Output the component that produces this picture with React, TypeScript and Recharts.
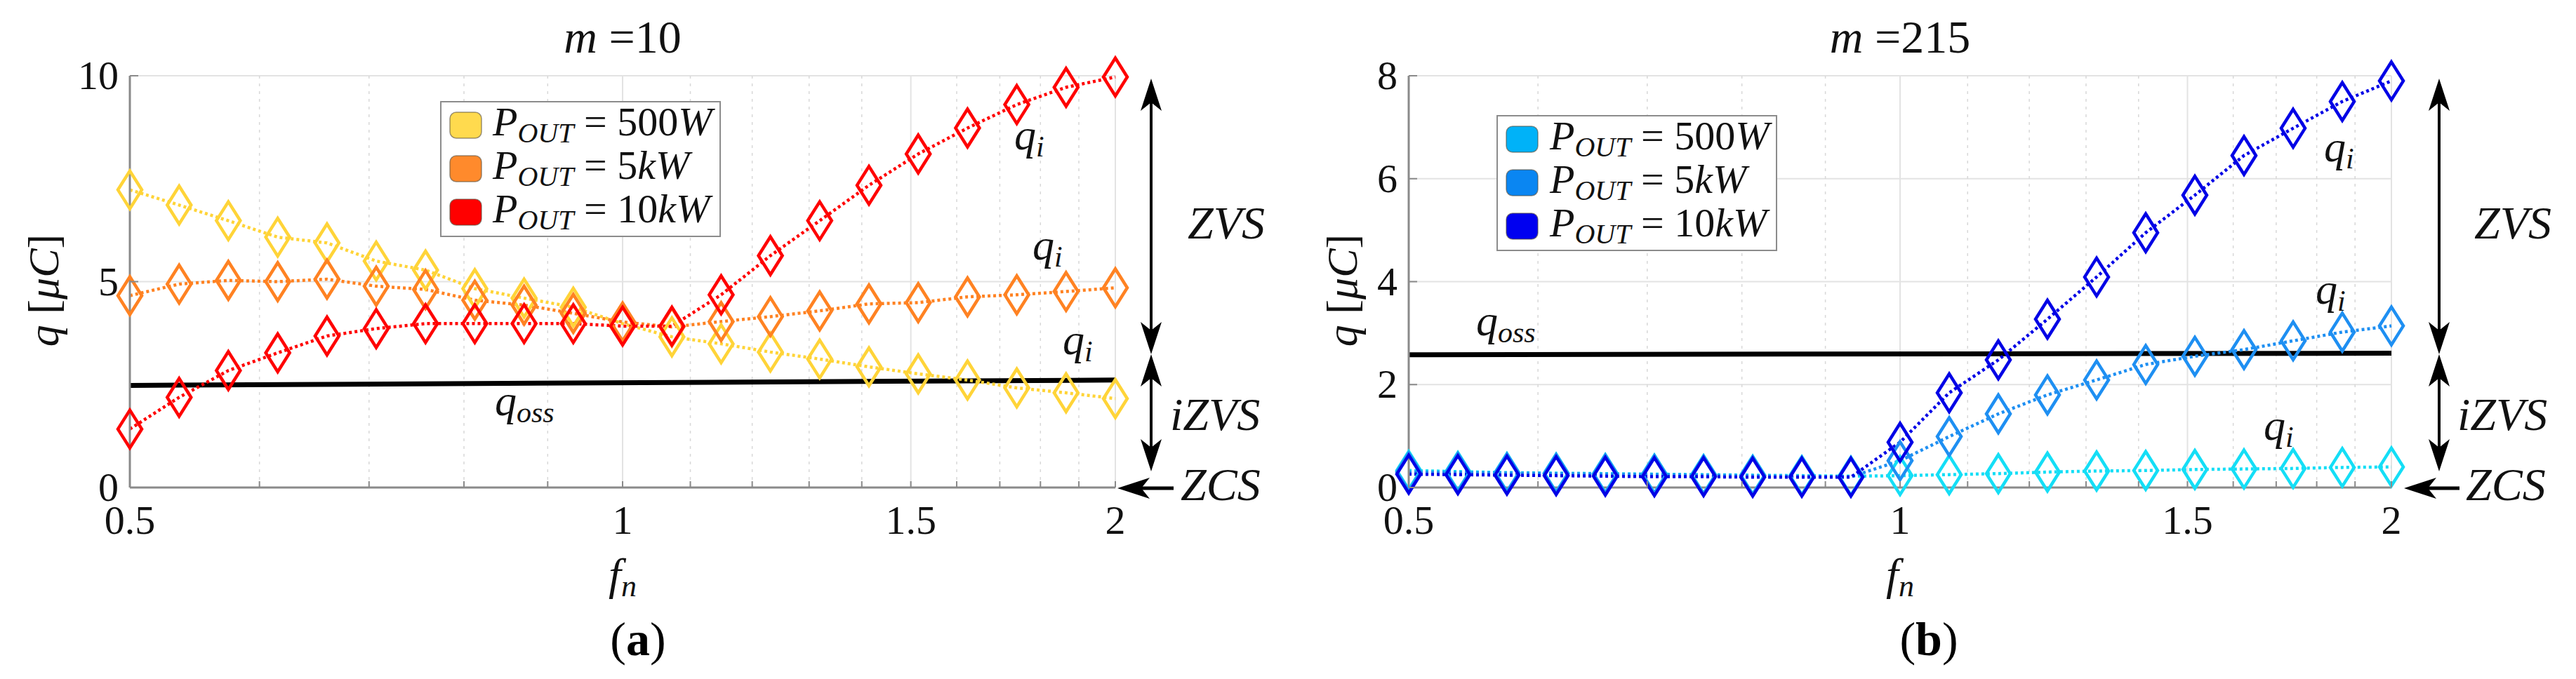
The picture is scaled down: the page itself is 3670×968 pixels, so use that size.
import React from 'react';
import { LineChart, Line, XAxis, YAxis, CartesianGrid, ReferenceLine } from 'recharts';

// ---------- data ----------
const fValues = [0.5, 0.5359, 0.5743, 0.6156, 0.6598, 0.7071, 0.7579, 0.8123, 0.8706, 0.933, 1.0,
  1.0718, 1.1487, 1.2311, 1.3195, 1.4142, 1.5157, 1.6245, 1.7411, 1.8661, 2.0];

// panel (a) m = 10
const qA500W = [7.23, 6.86, 6.48, 6.08, 5.94, 5.5, 5.28, 4.83, 4.6, 4.38, 3.98, 3.66, 3.49, 3.29, 3.12, 2.93, 2.76, 2.61, 2.42, 2.3, 2.16];
const qA5kW = [4.66, 4.94, 5.03, 5.0, 5.06, 4.89, 4.81, 4.55, 4.43, 4.23, 4.02, 3.9, 4.03, 4.15, 4.29, 4.46, 4.49, 4.63, 4.68, 4.76, 4.85];
const qA10kW = [1.42, 2.19, 2.84, 3.27, 3.68, 3.86, 3.98, 3.98, 3.98, 3.98, 3.92, 3.92, 4.68, 5.63, 6.48, 7.34, 8.1, 8.73, 9.3, 9.72, 9.97];
const qossAF = [0.5, 2];
const qossAV = [2.48, 2.61];

// panel (b) m = 215
const qB500W = [0.33, 0.31, 0.29, 0.28, 0.27, 0.26, 0.25, 0.24, 0.23, 0.22, 0.23, 0.25, 0.27, 0.3, 0.32, 0.33, 0.35, 0.36, 0.37, 0.39, 0.4];
const qB5kW = [0.3, 0.29, 0.28, 0.27, 0.26, 0.25, 0.24, 0.23, 0.22, 0.21, 0.52, 0.99, 1.43, 1.8, 2.09, 2.39, 2.55, 2.68, 2.85, 3.02, 3.14];
const qB10kW = [0.26, 0.25, 0.24, 0.23, 0.22, 0.21, 0.21, 0.2, 0.2, 0.2, 0.88, 1.84, 2.48, 3.27, 4.09, 4.95, 5.68, 6.45, 6.98, 7.5, 7.9];
const qossBF = [0.5, 2];
const qossBV = [2.58, 2.61];

const xMajorTicks = [0.5, 1, 1.5, 2];
const xMajorLabels = ['0.5', '1', '1.5', '2'];
const xMinorTicks = [0.6, 0.7, 0.8, 0.9, 1.1, 1.2, 1.3, 1.4, 1.6, 1.7, 1.8, 1.9];
const yTicksA = [0, 5, 10];
const yTicksB = [0, 2, 4, 6, 8];
const powerLabels = ['500', '5', '10'];
const powerUnits = ['W', 'kW', 'kW'];

const colorsA = ['#FFD438', '#FF8222', '#FF0000'];
const legendColorsA = ['#FFDA4E', '#FF8A2C', '#FF0000'];
const colorsB = ['#14DEF6', '#1E8FF2', '#0000E6'];
const legendColorsB = ['#00B2F8', '#0A86F2', '#0000F0'];

const FONT = 'Liberation Serif, Times New Roman, DejaVu Serif, serif';
const AXIS_GRAY = '#8a8a8a';

function buildRows(a: number[], b: number[], c: number[]) {
  return fValues.map((f, i) => ({ f, s0: a[i], s1: b[i], s2: c[i] }));
}
function buildQoss(fs: number[], vs: number[]) {
  return fs.map((f, i) => ({ f, q: vs[i] }));
}

const renderDiamond = (color: string, tag: string) => (props: any) => {
  const { cx, cy, index } = props;
  if (cx == null || cy == null) return <g key={`${tag}-${index}`} />;
  return (
    <path
      key={`${tag}-${index}`}
      d={`M${cx},${cy - 27}L${cx + 17},${cy}L${cx},${cy + 27}L${cx - 17},${cy}Z`}
      fill="none"
      stroke={color}
      strokeWidth={4.5}
      strokeLinejoin="miter"
    />
  );
};

const renderXTick = (props: any) => {
  const { x, y, payload } = props;
  const idx = xMajorTicks.indexOf(payload.value);
  return (
    <g>
      <line x1={x} x2={x} y1={y} y2={y - 9} stroke={AXIS_GRAY} strokeWidth={2} />
      {idx >= 0 && (
        <text x={x} y={y + 66} textAnchor="middle" style={{ fontFamily: FONT }} fontSize={58} fill="#111">
          {xMajorLabels[idx]}
        </text>
      )}
    </g>
  );
};

const renderYTick = (props: any) => {
  const { x, y, payload } = props;
  return (
    <g>
      <line x1={x} x2={x + 12} y1={y} y2={y} stroke={AXIS_GRAY} strokeWidth={2} />
      <text x={x - 16} y={y + 19} textAnchor="end" style={{ fontFamily: FONT }} fontSize={58} fill="#111">
        {String(payload.value)}
      </text>
    </g>
  );
};

type PanelProps = {
  left: number;
  width: number;
  mLeft: number;
  mRight: number;
  rows: any[];
  qoss: any[];
  colors: string[];
  yMax: number;
  yTicks: number[];
  tag: string;
};

function Panel({ left, width, mLeft, mRight, rows, qoss, colors, yMax, yTicks, tag }: PanelProps) {
  return (
    <div style={{ position: 'absolute', left, top: 0 }}>
      <LineChart width={width} height={968} data={rows} margin={{ top: 108, right: mRight, bottom: 213, left: mLeft }}>
        <CartesianGrid vertical={false} stroke="#e3e3e3" strokeWidth={2} />
        {xMinorTicks.map((v) => (
          <ReferenceLine key={`mn-${v}`} x={v} stroke="#d8d8d8" strokeWidth={1.5} strokeDasharray="4 7" />
        ))}
        {xMajorTicks.slice(1).map((v) => (
          <ReferenceLine key={`mj-${v}`} x={v} stroke="#e3e3e3" strokeWidth={2} />
        ))}
        <XAxis
          type="number"
          dataKey="f"
          scale="log"
          domain={[0.5, 2]}
          ticks={[...xMajorTicks, ...xMinorTicks]}
          interval={0}
          tick={renderXTick}
          tickLine={false}
          tickSize={0}
          tickMargin={0}
          axisLine={{ stroke: AXIS_GRAY, strokeWidth: 3 }}
          height={60}
        />
        <YAxis
          type="number"
          domain={[0, yMax]}
          ticks={yTicks}
          interval={0}
          tick={renderYTick}
          tickLine={false}
          tickSize={0}
          tickMargin={0}
          axisLine={{ stroke: AXIS_GRAY, strokeWidth: 3 }}
          width={60}
        />
        <Line data={qoss} dataKey="q" type="linear" stroke="#000" strokeWidth={7} dot={false} activeDot={false} isAnimationActive={false} />
        {['s0', 's1', 's2'].map((k, i) => (
          <Line
            key={k}
            dataKey={k}
            type="linear"
            stroke={colors[i]}
            strokeWidth={4.5}
            strokeDasharray="4 4"
            dot={renderDiamond(colors[i], `${tag}-${k}`)}
            activeDot={false}
            isAnimationActive={false}
          />
        ))}
      </LineChart>
    </div>
  );
}

function QLabel({ x, y, sub }: { x: number; y: number; sub: string }) {
  return (
    <text x={x} y={y} style={{ fontFamily: FONT }} fontSize={62} fontStyle="italic" fill="#111">
      q
      <tspan fontSize={42} dy={10}>{sub}</tspan>
    </text>
  );
}

function ArrowHead({ x, y, dir }: { x: number; y: number; dir: 'up' | 'down' | 'left' }) {
  let pts = '';
  if (dir === 'up') pts = `${x},${y} ${x - 15},${y + 46} ${x},${y + 34} ${x + 15},${y + 46}`;
  if (dir === 'down') pts = `${x},${y} ${x - 15},${y - 46} ${x},${y - 34} ${x + 15},${y - 46}`;
  if (dir === 'left') pts = `${x},${y} ${x + 46},${y - 15} ${x + 34},${y} ${x + 46},${y + 15}`;
  return <polygon points={pts} fill="#000" />;
}

function DoubleArrow({ x, y1, y2 }: { x: number; y1: number; y2: number }) {
  return (
    <g>
      <line x1={x} x2={x} y1={y1 + 30} y2={y2 - 30} stroke="#000" strokeWidth={4} />
      <ArrowHead x={x} y={y1} dir="up" />
      <ArrowHead x={x} y={y2} dir="down" />
    </g>
  );
}

function Legend({ x, y, colors, textX }: { x: number; y: number; colors: string[]; textX: number }) {
  const rows = [y + 33, y + 95, y + 157];
  return (
    <g>
      <rect x={x} y={y} width={398} height={192} fill="#fff" stroke="#8c8c8c" strokeWidth={2} />
      {rows.map((cy, i) => (
        <g key={i}>
          <rect x={x + 13} y={cy - 18} width={45} height={37} rx={9} fill={colors[i]} stroke="#5a5040" strokeOpacity={0.6} strokeWidth={1.5} />
          <text x={textX} y={cy + 15} style={{ fontFamily: FONT }} fontSize={58} fill="#111">
            <tspan fontStyle="italic">P</tspan>
            <tspan fontStyle="italic" fontSize={40} dy={10}>OUT</tspan>
            <tspan dy={-10}>{' = '}{powerLabels[i]}</tspan>
            <tspan fontStyle="italic">{powerUnits[i]}</tspan>
          </text>
        </g>
      ))}
    </g>
  );
}

function PanelAnnotations(p: {
  cx: number; title: string; ylabX: number; tagX: number; tag: string;
  legendX: number; legendY: number; legendTextX: number; legendColors: string[];
  qi: [number, number][]; qoss: [number, number]; arrowX: number; zcsTip: number; zcsTail: number;
  zvsX: number; izvsX: number; zcsX: number;
}) {
  const f = { fontFamily: FONT };
  return (
    <g>
      <text x={p.cx} y={75} textAnchor="middle" style={f} fontSize={66} fill="#111">
        <tspan fontStyle="italic">m</tspan>
        <tspan>{' ='}{p.title}</tspan>
      </text>
      <text transform={`translate(${p.ylabX},414) rotate(-90)`} textAnchor="middle" dominantBaseline="central" style={f} fontSize={62} fill="#111">
        <tspan fontStyle="italic">q</tspan>
        <tspan>{'  ['}</tspan>
        <tspan fontStyle="italic">μC</tspan>
        <tspan>]</tspan>
      </text>
      <text x={p.cx} y={840} textAnchor="middle" style={f} fontSize={64} fontStyle="italic" fill="#111">
        f<tspan fontSize={44} dy={10}>n</tspan>
      </text>
      <text x={p.tagX} y={934} textAnchor="middle" style={f} fontSize={68} fill="#000">
        (<tspan fontWeight="bold">{p.tag}</tspan>)
      </text>
      <Legend x={p.legendX} y={p.legendY} colors={p.legendColors} textX={p.legendTextX} />
      {p.qi.map(([x, y], i) => (
        <QLabel key={i} x={x} y={y} sub="i" />
      ))}
      <QLabel x={p.qoss[0]} y={p.qoss[1]} sub="oss" />
      <DoubleArrow x={p.arrowX} y1={112} y2={505} />
      <DoubleArrow x={p.arrowX} y1={505} y2={672} />
      <line x1={p.zcsTip + 30} x2={p.zcsTail} y1={696} y2={696} stroke="#000" strokeWidth={5} />
      <ArrowHead x={p.zcsTip} y={696} dir="left" />
      <text x={p.zvsX} y={340} style={f} fontSize={66} fontStyle="italic" fill="#111">ZVS</text>
      <text x={p.izvsX} y={613} style={f} fontSize={66} fontStyle="italic" fill="#111">iZVS</text>
      <text x={p.zcsX} y={713} style={f} fontSize={66} fontStyle="italic" fill="#111">ZCS</text>
    </g>
  );
}

export default function App() {
  const rowsA = buildRows(qA500W, qA5kW, qA10kW);
  const rowsB = buildRows(qB500W, qB5kW, qB10kW);
  return (
    <div style={{ position: 'absolute', left: 0, top: 0, width: 3670, height: 968, background: '#fff', overflow: 'hidden', fontFamily: FONT }}>
      <Panel left={0} width={1800} mLeft={125} mRight={211} rows={rowsA} qoss={buildQoss(qossAF, qossAV)} colors={colorsA} yMax={10} yTicks={yTicksA} tag="a" />
      <Panel left={1830} width={1840} mLeft={117} mRight={263} rows={rowsB} qoss={buildQoss(qossBF, qossBV)} colors={colorsB} yMax={8} yTicks={yTicksB} tag="b" />
      <svg width={3670} height={968} style={{ position: 'absolute', left: 0, top: 0, pointerEvents: 'none' }}>
        <PanelAnnotations
          cx={887} title="10" ylabX={62} tagX={909} tag="a"
          legendX={628} legendY={145} legendTextX={702} legendColors={legendColorsA}
          qi={[[1445, 213], [1471, 370], [1514, 505]]} qoss={[705, 592]}
          arrowX={1640} zcsTip={1592} zcsTail={1672}
          zvsX={1692} izvsX={1667} zcsX={1682}
        />
        <PanelAnnotations
          cx={2707} title="215" ylabX={1912} tagX={2748} tag="b"
          legendX={2133} legendY={165} legendTextX={2208} legendColors={legendColorsB}
          qi={[[3311, 230], [3299, 433], [3225, 627]]} qoss={[2103, 478]}
          arrowX={3475} zcsTip={3425} zcsTail={3504}
          zvsX={3525} izvsX={3501} zcsX={3513}
        />
      </svg>
    </div>
  );
}
